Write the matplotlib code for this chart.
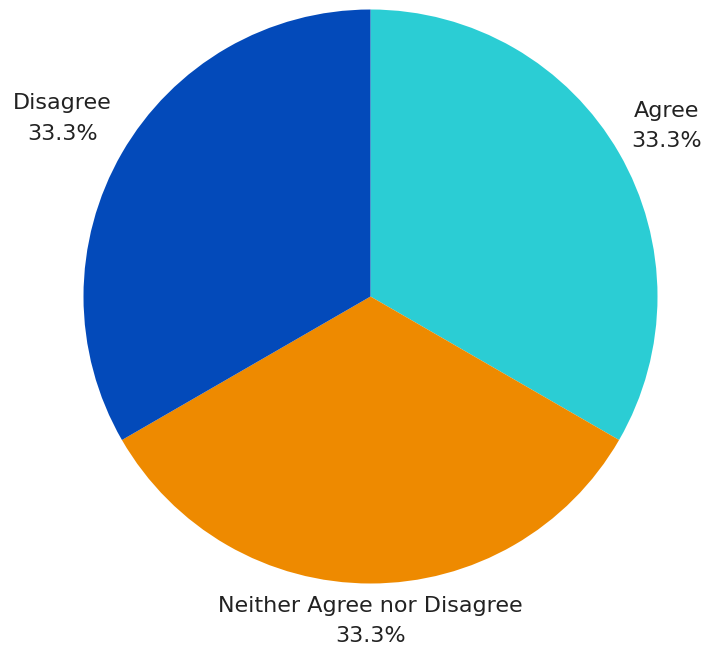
import numpy as np
import matplotlib.pyplot as plt

# Survey responses
categories = ['Agree', 'Neither Agree nor Disagree', 'Disagree']
values = [1, 1, 1]
colors = ['#2BCDD4', '#EE8A00', '#034ABA']

# pixel-space layout for the pie
cx, cy, r = 370.5, 652 - 296.5, 287
label_dist = [1.19, 1.13, 1.24]


def main():
    fig = plt.figure(figsize=(7.04, 6.52), dpi=100)
    ax = fig.add_axes([0, 0, 1, 1])
    wedges, _ = ax.pie(values, colors=colors, startangle=90, counterclock=False,
                       center=(cx, cy), radius=r, wedgeprops=dict(linewidth=0))
    total = sum(values)
    for w, name, v, d in zip(wedges, categories, values, label_dist):
        ang = np.deg2rad((w.theta1 + w.theta2) / 2)
        x = cx + d * r * np.cos(ang)
        y = cy + d * r * np.sin(ang)
        ax.text(x, y, f'{name}\n{100 * v / total:.1f}%', ha='center', va='center',
                fontsize=16, color='#222222', linespacing=1.65, family='DejaVu Sans')
    ax.set_xlim(0, 704)
    ax.set_ylim(0, 652)
    ax.axis('off')
    fig.savefig('out.png', dpi=100)


if __name__ == '__main__':
    main()
